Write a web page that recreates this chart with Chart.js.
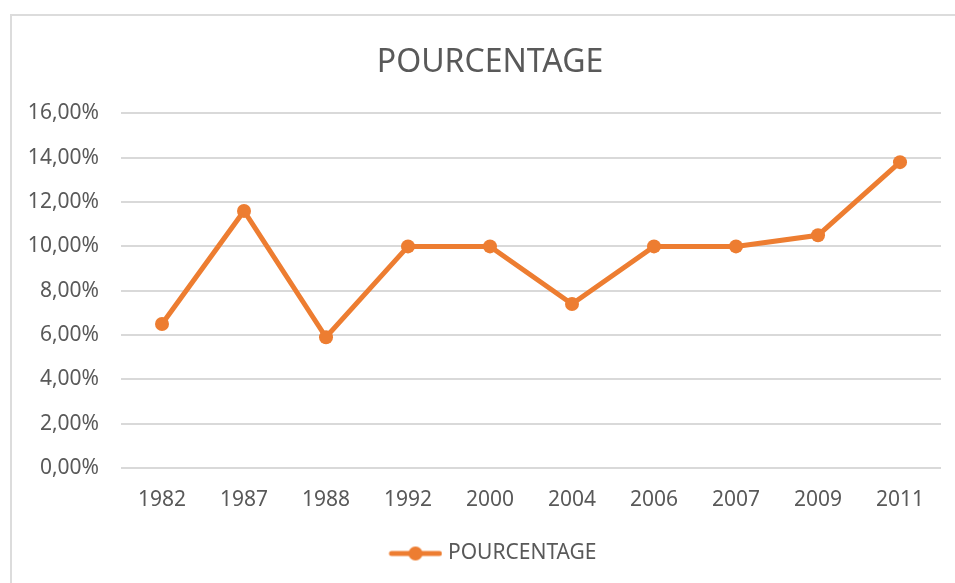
<!DOCTYPE html>
<html>
<head>
<meta charset="utf-8">
<title>POURCENTAGE</title>
<script src="https://cdn.jsdelivr.net/npm/chart.js@4"></script>
<style>
  body { margin: 0; background: #fff; overflow: hidden; }
  #frame { position: absolute; left: 10px; top: 14px; width: 980px; height: 620px;
           border-left: 2px solid #dcdcdc; border-top: 2px solid #dcdcdc; }
  #chart { position: absolute; left: 0; top: 0; }
</style>
</head>
<body>
<div id="frame"></div>
<canvas id="chart" width="955" height="583"></canvas>
<script>
// data
var years = ["1982", "1987", "1988", "1992", "2000", "2004", "2006", "2007", "2009", "2011"];
var pourcentage = [6.5, 11.6, 5.9, 10, 10, 7.4, 10, 10, 10.5, 13.8];
var yMin = 0, yMax = 16, yStep = 2;

var orange = "#ED7D31";
var grey = "#595959";
var font = "'Noto Sans', 'Open Sans', sans-serif";

// legend symbol: line with a dot in the middle (drawn a bit to the right so the text sits close)
var sym = document.createElement("canvas");
sym.width = 64; sym.height = 16;
var sc = sym.getContext("2d");
sc.strokeStyle = orange; sc.lineWidth = 5; sc.lineCap = "round";
sc.beginPath(); sc.moveTo(13, 8); sc.lineTo(61, 8); sc.stroke();
sc.fillStyle = orange;
sc.beginPath(); sc.arc(37, 8, 7, 0, Math.PI * 2); sc.fill();

// the original frame is cut off on the right, so title and legend sit a bit right of centre
var shiftBoxes = {
  id: 'shiftBoxes',
  afterLayout: function (chart) {
    [chart.titleBlock, chart.legend].forEach(function (b) {
      if (b) { b.left += 14.5; b.right += 14.5; }
    });
  }
};

new Chart(document.getElementById("chart"), {
  type: 'line',
  data: {
    labels: years,
    datasets: [{
      label: "POURCENTAGE",
      data: pourcentage,
      borderColor: orange,
      backgroundColor: orange,
      borderWidth: 5,
      pointRadius: 7,
      pointBorderWidth: 0,
      pointBackgroundColor: orange,
      tension: 0
    }]
  },
  options: {
    responsive: false,
    animation: false,
    layout: { padding: { top: 14, left: 10, right: 14, bottom: 9 } },
    plugins: {
      title: {
        display: true,
        text: 'POURCENTAGE',
        color: grey,
        font: { family: font, size: 32, weight: 'normal' },
        padding: { top: 30, bottom: 31 }
      },
      legend: {
        position: 'bottom',
        labels: {
          usePointStyle: true,
          pointStyle: sym,
          pointStyleWidth: 54,
          boxHeight: 16,
          color: grey,
          font: { family: font, size: 21 }
        }
      },
      tooltip: { enabled: false }
    },
    scales: {
      x: {
        offset: true,
        grid: { display: false, drawTicks: false },
        border: { display: false },
        ticks: { color: grey, font: { family: font, size: 21 }, padding: 19 },
        afterFit: function (s) { s.height = 65; }
      },
      y: {
        min: yMin, max: yMax,
        grid: { color: "#d9d9d9", lineWidth: 2, drawTicks: false },
        border: { display: false },
        ticks: {
          stepSize: yStep,
          color: grey,
          font: { family: font, size: 21 },
          padding: 22,
          callback: function (v) { return v.toFixed(2).replace('.', ',') + '%'; }
        },
        afterFit: function (s) { s.width = 111; }
      }
    }
  },
  plugins: [shiftBoxes]
});
</script>
</body>
</html>
